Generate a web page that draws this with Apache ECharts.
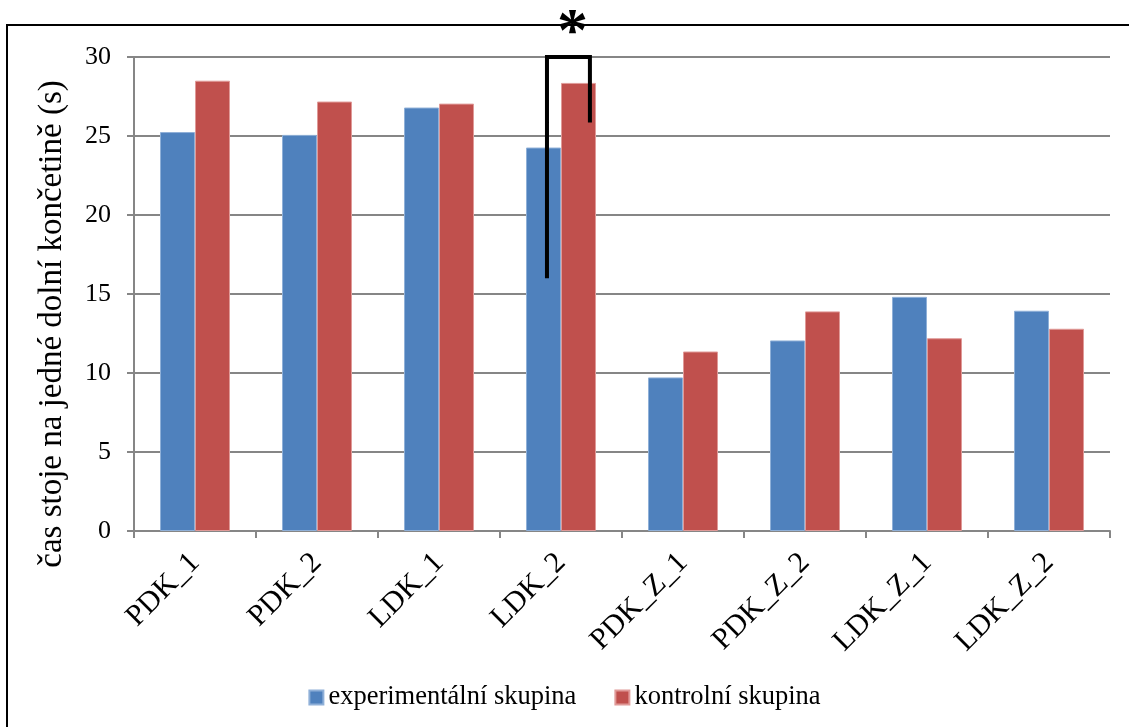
<!DOCTYPE html>
<html>
<head>
<meta charset="utf-8">
<script src="https://cdn.jsdelivr.net/npm/echarts@6/dist/echarts.min.js"></script>
<style>html,body{margin:0;padding:0;background:#fff;}#c{width:1129px;height:727px;}</style>
</head>
<body>
<div id="c"></div>
<script>
var categories = ['PDK_1','PDK_2','LDK_1','LDK_2','PDK_Z_1','PDK_Z_2','LDK_Z_1','LDK_Z_2'];
var experimental = [25.25, 25.07, 26.8, 24.27, 9.72, 12.06, 14.82, 13.94];
var control = [28.5, 27.18, 27.05, 28.36, 11.36, 13.9, 12.2, 12.8];
var seriesNames = ['experimentální skupina', 'kontrolní skupina'];
var yTicks = [0, 5, 10, 15, 20, 25, 30];
// significance bracket: [category index, bracket top, left leg bottom, right leg bottom]
var bracket = [[3, 30, 16.0, 25.85]];

var FONT = '"Liberation Serif", "Times New Roman", serif';
var chart = echarts.init(document.getElementById('c'), null, {renderer: 'canvas'});
chart.setOption({
  animation: false,
  backgroundColor: '#fff',
  textStyle: {fontFamily: FONT, color: '#000'},
  graphic: [{
    type: 'rect', z: 100, silent: true,
    shape: {x: 7, y: 25, width: 1140, height: 720},
    style: {fill: 'none', stroke: '#000', lineWidth: 2}
  }],
  grid: {left: 134, right: 19, top: 57, bottom: 196, containLabel: false},
  legend: {
    data: seriesNames,
    left: 'center', top: 679,
    itemWidth: 14, itemHeight: 14, itemGap: 38,
    icon: 'rect',
    textStyle: {fontFamily: FONT, fontSize: 26.5, color: '#000'}
  },
  xAxis: {
    type: 'category', data: categories,
    axisLine: {lineStyle: {color: '#868686', width: 2}},
    axisTick: {show: true, length: 7, lineStyle: {color: '#868686', width: 2}},
    axisLabel: {rotate: 45, fontFamily: FONT, fontSize: 30, color: '#000', margin: 27, interval: 0}
  },
  yAxis: {
    type: 'value', min: 0, max: 30, interval: 5,
    name: 'čas stoje na jedné dolní končetině (s)',
    nameLocation: 'middle', nameGap: 65, nameRotate: 90,
    nameTextStyle: {fontFamily: FONT, fontSize: 33, color: '#000', padding: [0, 60, 0, 0]},
    axisLine: {show: true, lineStyle: {color: '#868686', width: 2}},
    axisTick: {show: true, length: 7, lineStyle: {color: '#868686', width: 2}},
    axisLabel: {fontFamily: FONT, fontSize: 26, color: '#000', margin: 23,
      formatter: function (v) { return yTicks.indexOf(v) >= 0 ? String(v) : ''; }},
    splitLine: {lineStyle: {color: '#868686', width: 2}}
  },
  series: [
    {name: seriesNames[0], type: 'bar', data: experimental, barWidth: 35, barGap: '0%',
     itemStyle: {color: '#4F81BD', borderColor: '#8fb0d8', borderWidth: 1}},
    {name: seriesNames[1], type: 'bar', data: control, barWidth: 35, barGap: '0%',
     itemStyle: {color: '#C0504D', borderColor: '#e09a98', borderWidth: 1}},
    {
      type: 'custom', z: 10, silent: true,
      data: bracket,
      encode: {x: 0, y: 1},
      renderItem: function (params, api) {
        var idx = api.value(0);
        var top = api.coord([idx, api.value(1)]);
        var lb = api.coord([idx, api.value(2)]);
        var rb = api.coord([idx, api.value(3)]);
        var band = api.size([1, 0])[0];
        var xl = top[0] - band * 0.115;
        var xr = top[0] + band * 0.237;
        return {
          type: 'group',
          children: [
            {type: 'polyline', shape: {points: [[xl, lb[1]], [xl, top[1]], [xr, top[1]], [xr, rb[1]]]},
             style: {stroke: '#000', lineWidth: 4, fill: 'none', lineJoin: 'miter'}},
            {type: 'text', style: {text: '*', x: (xl + xr) / 2 + 4, y: top[1] - 54,
              font: 'bold 62px ' + FONT, fill: '#000', align: 'center', verticalAlign: 'top'}}
          ]
        };
      }
    }
  ]
});
</script>
</body>
</html>
